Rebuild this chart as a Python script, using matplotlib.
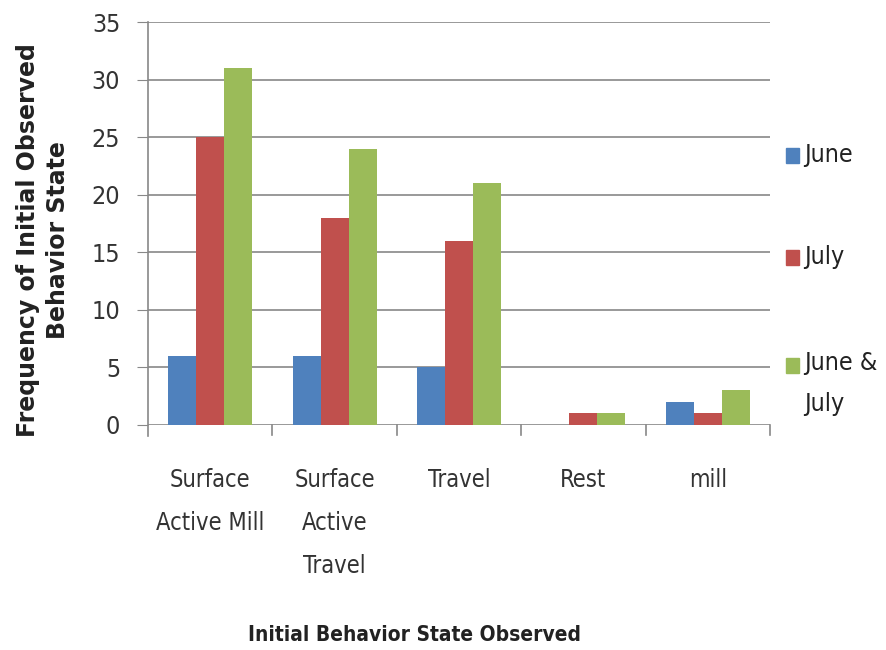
import matplotlib
matplotlib.use("Agg")
import matplotlib.pyplot as plt
from matplotlib.patches import Rectangle
import numpy as np

categories = ["Surface\nActive Mill", "Surface\nActive\nTravel", "Travel", "Rest", "mill"]
series_names = ["June", "July", "June &\nJuly"]
june = [6, 6, 5, 0, 2]
july = [25, 18, 16, 1, 1]
june_july = [31, 24, 21, 1, 3]
y_ticks = [0, 5, 10, 15, 20, 25, 30, 35]

colors = ["#4F81BD", "#C0504D", "#9BBB59"]
narrow = dict(family=["DejaVu Sans"], stretch="condensed")

fig = plt.figure(figsize=(8.86, 6.5), dpi=100)
ax = fig.add_axes([148 / 886, 1 - 425 / 650, (770 - 148) / 886, (425 - 22) / 650])

x = np.arange(len(categories))
width = 0.225
for i, (vals, c) in enumerate(zip([june, july, june_july], colors)):
    ax.bar(x + (i - 1) * width, vals, width=width, color=c, zorder=3)

ax.set_xlim(-0.5, len(categories) - 0.5)
ax.set_ylim(0, 35)
ax.set_yticks(y_ticks)
ax.set_yticklabels([str(t) for t in y_ticks], fontsize=18, color="#333333", **narrow)
ax.yaxis.grid(True, color="#888888", linewidth=1.2, zorder=0)
ax.tick_params(axis="y", length=8, color="#888888", pad=12)

ax.set_xticks(x)
ax.set_xticklabels(categories, fontsize=17, color="#333333", linespacing=2.0, va="top", **narrow)
ax.tick_params(axis="x", length=0, pad=31)
# category separators hanging below the baseline
for b in np.arange(0.5, len(categories), 1.0):
    ax.plot([b, b], [-0.9, 0], color="#888888", linewidth=1.2, clip_on=False, zorder=1)

for s in ["top", "right", "bottom"]:
    ax.spines[s].set_visible(False)
ax.spines["left"].set_color("#888888")
ax.spines["left"].set_linewidth(1.2)
ax.spines["left"].set_bounds(-0.95, 35)

ax.set_ylabel("Frequency of Initial Observed\nBehavior State", fontsize=17, fontweight="bold",
              family=["DejaVu Sans"], color="#222222", linespacing=1.35)
ax.yaxis.set_label_coords(-0.125, 0.46)
fig.text(415 / 886, 1 - 635 / 650, "Initial Behavior State Observed", fontsize=15,
         fontweight="bold", color="#222222", ha="center", va="center", **narrow)

# legend entries
legend_y = [155, 257, 365]
for name, c, ly in zip(series_names, colors, legend_y):
    fig.patches.append(Rectangle((786 / 886, 1 - (ly + 8) / 650), 13 / 886, 15 / 650,
                                 transform=fig.transFigure, color=c))
    multi = "\n" in name
    fig.text(804 / 886, 1 - ((ly - 14) if multi else ly) / 650, name, fontsize=18,
             color="#222222", ha="left", va="top" if multi else "center",
             linespacing=1.9, **narrow)

fig.savefig("out.png", dpi=100, facecolor="white")
